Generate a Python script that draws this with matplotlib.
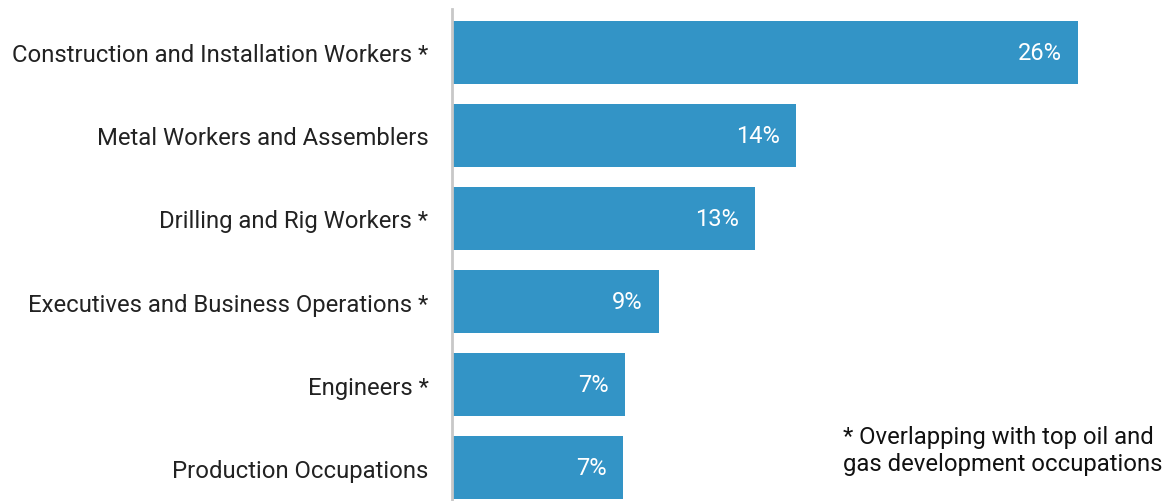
import matplotlib
matplotlib.use("Agg")
import matplotlib.pyplot as plt

categories = [
    "Construction and Installation Workers *",
    "Metal Workers and Assemblers",
    "Drilling and Rig Workers *",
    "Executives and Business Operations *",
    "Engineers *",
    "Production Occupations",
]
values = [26.0, 14.3, 12.6, 8.6, 7.2, 7.1]
labels = ["26%", "14%", "13%", "9%", "7%", "7%"]
note = "* Overlapping with top oil and\ngas development occupations"

plt.rcParams['font.family'] = ['Roboto', 'DejaVu Sans']

fig = plt.figure(figsize=(11.66, 5.02), dpi=100)
ax = fig.add_axes([452/1166, 0, 1 - 452/1166, 492/502])

ypos = list(range(len(categories)))
bars = ax.barh(ypos, values, height=0.76, color="#3394C6")
ax.set_ylim(5.40, -0.52)
ax.set_xlim(0, (1166 - 452) / 24.08)

ax.set_yticks(ypos)
ax.set_yticklabels(categories, fontsize=17.2, color="#222222")
ax.tick_params(axis='y', length=0, pad=17)
for t in ax.get_yticklabels():
    t.set_y(t.get_position()[1])
ax.set_xticks([])
for s in ["top", "right", "bottom"]:
    ax.spines[s].set_visible(False)
ax.spines["left"].set_color("#C8C8C8")
ax.spines["left"].set_linewidth(2)

for v, y, lab in zip(values, ypos, labels):
    ax.annotate(lab, xy=(v, y), xytext=(-12, 0), textcoords="offset points",
                ha="right", va="center", color="white", fontsize=17)

fig.text(843/1166, 1 - 426/502, note, ha="left", va="top", fontsize=17.2,
         color="#111111", linespacing=1.25)

fig.savefig("out.png", dpi=100)
